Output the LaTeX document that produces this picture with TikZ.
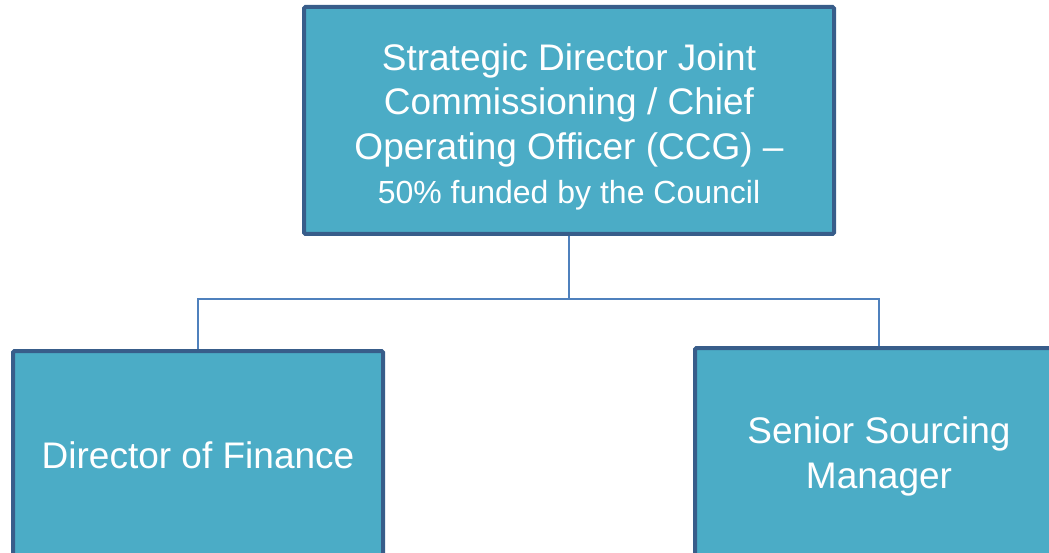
\documentclass[tikz,border=0pt]{standalone}
\usepackage{fontspec}
\setmainfont{Liberation Sans}
\usepackage{xcolor}
\usepackage{tikz}
\usetikzlibrary{positioning}

\definecolor{boxfill}{RGB}{75,172,198}
\definecolor{boxline}{RGB}{56,93,138}
\definecolor{linkblue}{RGB}{79,129,189}

\begin{document}
\begin{tikzpicture}[x=1pt, y=-1pt]
\tikzstyle{post} = [rectangle, draw=boxline, line width=4pt, fill=boxfill, text=white, align=center, rounded corners=1.5pt, font=\fontsize{37}{44.5}\selectfont]
\tikzstyle{link} = [draw=linkblue, line width=1.5pt]

\useasboundingbox (0,0) rectangle (1049,553);
\clip (0,0) rectangle (1049,553);

\node (director) [post, minimum width=530pt, minimum height=227pt] at (569,120.5)
  {\rule{0pt}{40pt}Strategic Director Joint\\Commissioning / Chief\\Operating Officer (CCG) --\\{\fontsize{32}{38}\selectfont 50\% funded by the Council}};
\node (finance) [post, minimum width=370pt, minimum height=208pt] at (198,455) {Director of Finance};
\node (sourcing) [post, minimum width=368pt, minimum height=210pt] at (879,453) {\rule{0pt}{34pt}Senior Sourcing\\Manager};

% reporting lines
\coordinate (bus) at (569,299);
\draw[link] (director.south) -- (bus) -| (finance.north);
\draw[link] (bus) -| (sourcing.north);

\end{tikzpicture}
\end{document}
